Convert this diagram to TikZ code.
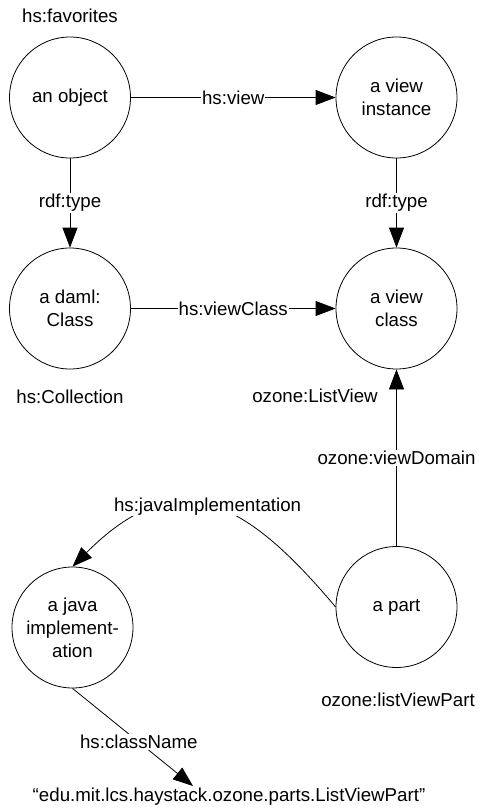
\documentclass[tikz,border=0pt]{standalone}
\usepackage{fontspec}
\setmainfont{Liberation Sans}
\usetikzlibrary{arrows.meta}
\begin{document}
\begin{tikzpicture}[x=1pt,y=-1pt,
  every node/.style={font=\fontsize{18.7}{23}\selectfont},
  res/.style={draw, circle, minimum size=121pt, inner sep=0pt, align=center, line width=0.8pt},
  txt/.style={inner sep=1pt},
  lbl/.style={fill=white, inner sep=1pt},
  conn/.style={line width=0.8pt, -{Triangle[length=20pt,width=15pt]}},
  plain/.style={line width=0.8pt}]
\useasboundingbox (0,0) rectangle (479,809);
\node[res] (obj) at (70,97.5) {an object};
\node[res] (vinst) at (396.5,97.5) {a view\\instance};
\node[res] (daml) at (70,308.5) {a daml:\\Class};
\node[res] (vclass) at (396.5,308.5) {a view\\class};
\node[res] (java) at (72.5,627.5) {a java\\implement-\\ation};
\node[res] (part) at (396.5,607) {a part};
\node[txt] (fav) at (70,16) {hs:favorites};
\node[txt] (coll) at (70,397) {hs:Collection};
\node[txt] (lv) at (315,396) {ozone:ListView};
\node[txt] (lvp) at (398,700) {ozone:listViewPart};
\node[txt] (lit) at (229,797) {“edu.mit.lcs.haystack.ozone.parts.ListViewPart”};
\coordinate (litend) at (193,786);
\draw[conn] (obj) -- node[lbl]{hs:view} (vinst);
\draw[conn] (daml) -- node[lbl]{hs:viewClass} (vclass);
\draw[conn] (obj) -- node[lbl]{rdf:type} (daml);
\draw[conn] (vinst) -- node[lbl]{rdf:type} (vclass);
\draw[conn] (part) -- node[lbl]{ozone:viewDomain} (vclass);
\draw[conn] (part.west) to[out=130,in=45,looseness=1.4] node[lbl,pos=0.5]{hs:javaImplementation} (java.north);
\draw[conn] (java.south) -- node[lbl,pos=0.55]{hs:className} (litend);
\end{tikzpicture}
\end{document}
